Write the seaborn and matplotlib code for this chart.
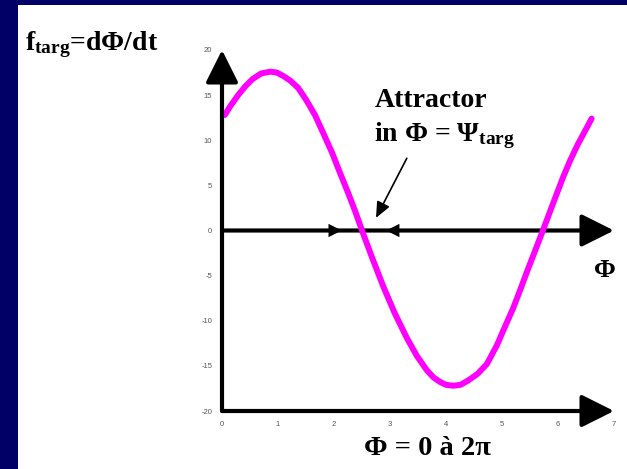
import numpy as np
import pandas as pd
import matplotlib
matplotlib.use("Agg")
import matplotlib.pyplot as plt
import seaborn as sns
from matplotlib.patches import Rectangle

# values
phi = [0.05, 0.15, 0.3, 0.42, 0.55, 0.7, 0.86, 0.98, 1.1, 1.22, 1.36, 1.5, 1.66,
       1.8, 1.96, 2.1, 2.25, 2.38, 2.5, 2.68, 2.88, 3.08, 3.3, 3.48, 3.66, 3.78,
       3.9, 4.0, 4.13, 4.26, 4.4, 4.56, 4.73, 4.91, 5.05, 5.2, 5.33, 5.45, 5.6,
       5.73, 5.9, 6.09, 6.22, 6.35, 6.48, 6.6]
f_targ = [12.8, 13.8, 15.1, 16.0, 16.8, 17.4, 17.6, 17.5, 17.1, 16.6, 15.8, 14.5, 12.8,
          10.9, 8.7, 6.5, 4.2, 2.1, 0.0, -3.0, -6.2, -9.1, -11.9, -13.9, -15.5, -16.3,
          -16.8, -17.1, -17.2, -17.1, -16.6, -15.9, -14.8, -12.7, -10.7, -8.6, -6.5, -4.5, -2.1,
          0.0, 2.8, 5.9, 7.8, 9.5, 11.0, 12.4]
x_ticks = [0, 1, 2, 3, 4, 5, 6, 7]
y_ticks = [-20, -15, -10, -5, 0, 5, 10, 15, 20]

df = pd.DataFrame({'phi': phi, 'f': f_targ})

sns.set_style("white")
plt.rcParams['font.family'] = ['Liberation Serif', 'DejaVu Serif']
plt.rcParams['text.color'] = 'black'
plt.rcParams['axes.unicode_minus'] = False
plt.rcParams['mathtext.fontset'] = 'custom'
plt.rcParams['mathtext.rm'] = 'Liberation Serif:bold'
plt.rcParams['mathtext.it'] = 'Liberation Serif:bold'
plt.rcParams['mathtext.bf'] = 'Liberation Serif:bold'

W, H = 627, 469
fig = plt.figure(figsize=(W / 100, H / 100), dpi=100, facecolor='#000066')
# white slide panel
fig.patches.append(Rectangle((18 / W, 0), 1, (H - 5) / H, transform=fig.transFigure,
                             facecolor='white', edgecolor='none', zorder=-5))

ax = fig.add_axes([222 / W, 1 - 411 / H, (614 - 222) / W, (411 - 50) / H])
ax.set_facecolor('none')

sns.lineplot(data=df, x='phi', y='f', color='#ff00ff', linewidth=4.3, ax=ax, zorder=3)
ax.lines[0].set_solid_joinstyle('round')
ax.lines[0].set_solid_capstyle('round')

ax.set_xlim(0, 7)
ax.set_ylim(-20, 20)
for s in ax.spines.values():
    s.set_visible(False)
ax.set_xticks(x_ticks)
ax.set_yticks(y_ticks)
ax.set_xlabel('')
ax.set_ylabel('')
ax.tick_params(axis='both', labelsize=5.5, colors='#555555', length=2, width=0.6, pad=5)
ax.tick_params(axis='x', direction='in', pad=7)
for lab in ax.get_xticklabels() + ax.get_yticklabels():
    lab.set_fontfamily('Liberation Sans')

big = dict(arrowstyle='-|>,head_length=1.0,head_width=0.5', color='black',
           lw=3, mutation_scale=20, shrinkA=0, shrinkB=0)
ax.annotate('', xy=(0, 20), xytext=(0, -20), arrowprops=big, annotation_clip=False, zorder=4)
ax.annotate('', xy=(7, 0), xytext=(0, 0), arrowprops=big, annotation_clip=False, zorder=2)
ax.annotate('', xy=(7, -20), xytext=(0, -20), arrowprops=big, annotation_clip=False, zorder=4)

small = dict(arrowstyle='-|>,head_length=1.2,head_width=0.6', color='black',
             lw=0, mutation_scale=8, shrinkA=0, shrinkB=0)
ax.annotate('', xy=(2.14, 0), xytext=(1.9, 0), arrowprops=small, zorder=4)
ax.annotate('', xy=(2.93, 0), xytext=(3.2, 0), arrowprops=small, zorder=4)

# attractor label and pointer
ax.annotate('', xy=(2.75, 1.4), xytext=(3.3, 8.0),
            arrowprops=dict(arrowstyle='-|>,head_length=0.8,head_width=0.35',
                            color='black', lw=1.2, mutation_scale=12, shrinkA=0, shrinkB=0))
ax.text(2.73, 14.4, 'Attractor', fontsize=20, fontweight='bold', va='center', ha='left')
ax.text(2.71, 10.5, r'in Φ = Ψ$_{\mathrm{targ}}$', fontsize=20, fontweight='bold',
        va='center', ha='left')

ax.text(6.84, -4.4, 'Φ', fontsize=19, fontweight='bold', ha='center', va='center', clip_on=False)
ax.text(3.66, -24.2, 'Φ = 0 à 2π', fontsize=20.5, fontweight='bold', ha='center', va='center',
        clip_on=False)

fig.text(25 / W, 1 - 45 / H, r'f$_{\mathrm{targ}}$=dΦ/dt', fontsize=20, fontweight='bold',
         ha='left', va='center')

fig.savefig('out.png', dpi=100, facecolor=fig.get_facecolor())
